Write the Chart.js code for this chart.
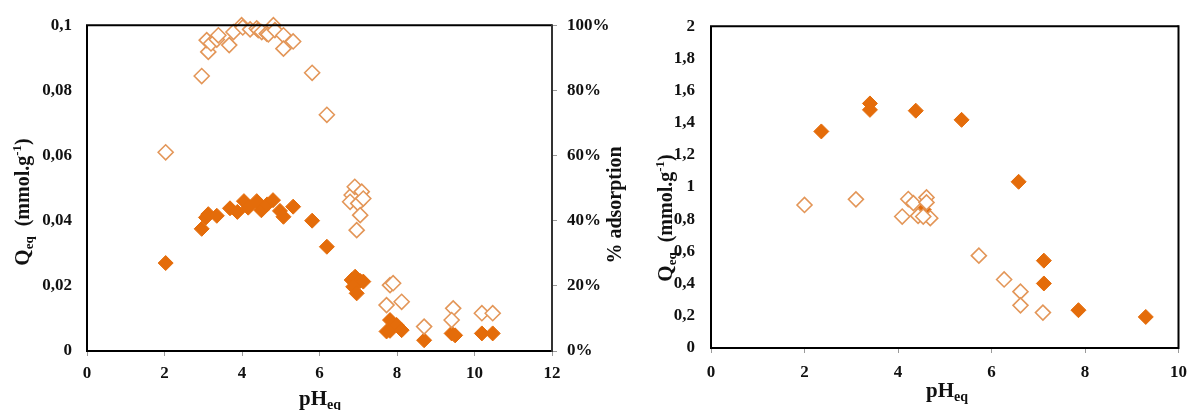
<!DOCTYPE html>
<html>
<head>
<meta charset="utf-8">
<script src="https://cdn.jsdelivr.net/npm/chart.js@4"></script>
<style>
  html, body { margin: 0; padding: 0; background: #fff; }
  #wrap { position: relative; width: 1196px; height: 410px; }
  .box { position: absolute; top: 0; height: 410px; }
</style>
</head>
<body>
<div id="wrap">
  <div class="box" style="left:0;width:640px"><canvas id="left"></canvas></div>
  <div class="box" style="left:640px;width:556px"><canvas id="right"></canvas></div>
</div>
<script>
// Left chart: Qeq (filled) and % adsorption (hollow) vs pH
const phFilledLeft = [2.03, 2.96, 3.07, 3.13, 3.35, 3.69, 3.88, 4.05, 4.16, 4.38, 4.5, 4.65, 4.8, 4.98, 5.07, 5.32, 5.81, 6.19,
  6.83, 6.92, 7.05, 7.13, 6.87, 6.96, 7.73, 7.82, 7.82, 7.99, 8.12, 8.7, 9.41, 9.5, 10.19, 10.47];
const qFilledLeft = [0.027, 0.0375, 0.041, 0.042, 0.0415, 0.0438, 0.0427, 0.046, 0.044, 0.046, 0.0432, 0.045, 0.0463, 0.043, 0.0412, 0.0443, 0.040, 0.032,
  0.0218, 0.0228, 0.0215, 0.0213, 0.0197, 0.0177, 0.006, 0.0095, 0.0062, 0.008, 0.0064, 0.0033, 0.0054, 0.0048, 0.0054, 0.0054];
const phHollowLeft = [2.03, 2.96, 3.13, 3.09, 3.2, 3.35, 3.39, 3.67, 3.78, 3.99, 4.02, 4.21, 4.38, 4.42, 4.51, 4.64, 4.68, 4.81, 4.85,
  5.07, 5.07, 5.32, 5.81, 6.19, 6.83, 6.79, 6.91, 7.0, 7.09, 7.13, 7.05, 6.96, 7.82, 7.9, 7.73, 8.12, 8.7, 9.45, 9.41, 10.19, 10.47];
const pctHollowLeft = [61, 84.4, 91.8, 95.4, 94.4, 95.6, 96.9, 93.9, 97.9, 100, 99.3, 98.7, 99, 98.5, 97.9, 97.4, 97.2, 100, 98.5,
  96.9, 92.8, 95, 85.4, 72.5, 47.9, 45.8, 50.4, 45.3, 48.9, 46.8, 41.7, 37.1, 20.2, 20.8, 14.1, 15.1, 7.5, 13.1, 9.5, 11.6, 11.6];

// Right chart: Qeq vs pH, two series
const phFilledRight = [2.36, 3.4, 3.4, 4.38, 5.36, 6.58, 7.12, 7.12, 7.86, 9.3, 4.55];
const qFilledRight = [1.346, 1.52, 1.48, 1.475, 1.418, 1.033, 0.543, 0.401, 0.235, 0.193, 0.86];
const phHollowRight = [2.0, 3.1, 4.09, 4.22, 4.33, 4.43, 4.61, 4.61, 4.69, 4.54, 5.73, 6.27, 6.62, 6.62, 7.1];
const qHollowRight = [0.889, 0.924, 0.817, 0.926, 0.9, 0.821, 0.936, 0.905, 0.807, 0.817, 0.574, 0.426, 0.35, 0.265, 0.22];

// Tick labels
const xTicksLeft = [0, 2, 4, 6, 8, 10, 12];
const yTicksLeft = ['0', '0,02', '0,04', '0,06', '0,08', '0,1'];
const y1TicksLeft = ['0%', '20%', '40%', '60%', '80%', '100%'];
const xTicksRight = [0, 2, 4, 6, 8, 10];
const yTicksRight = ['0', '0,2', '0,4', '0,6', '0,8', '1', '1,2', '1,4', '1,6', '1,8', '2'];

const FONT = '"Liberation Serif", "Times New Roman", serif';
const ORANGE = '#E46C0A';
const HOLLOW = '#E39658';

const toPoints = (xs, ys) => xs.map((x, i) => ({ x: x, y: ys[i] }));

// Draw text made of parts (for sub/superscripts), centred on cx, optionally rotated
function drawRich(ctx, parts, cx, cy, rotate) {
  ctx.save();
  ctx.fillStyle = '#111';
  ctx.textBaseline = 'alphabetic';
  ctx.textAlign = 'left';
  let total = 0;
  parts.forEach(p => {
    ctx.font = 'bold ' + p.f + 'px ' + FONT;
    p.w = ctx.measureText(p.t).width;
    total += p.w;
  });
  ctx.translate(cx, cy);
  if (rotate) ctx.rotate(-Math.PI / 2);
  let x = -total / 2;
  parts.forEach(p => {
    ctx.font = 'bold ' + p.f + 'px ' + FONT;
    ctx.fillText(p.t, x, 7 + (p.dy || 0));
    x += p.w;
  });
  ctx.restore();
}

// Frame round the plot area plus axis titles
const framePlugin = {
  id: 'frame',
  afterDraw(chart, args, opts) {
    const ctx = chart.ctx;
    const a = chart.chartArea;
    ctx.save();
    ctx.lineWidth = 2;
    ctx.strokeStyle = '#000';
    ctx.beginPath();
    ctx.moveTo(a.right, a.top);
    ctx.lineTo(a.left, a.top);
    ctx.lineTo(a.left, a.bottom);
    ctx.lineTo(a.right, a.bottom);
    ctx.stroke();
    ctx.strokeStyle = opts.rightColor || '#000';
    ctx.beginPath();
    ctx.moveTo(a.right, a.top - 1);
    ctx.lineTo(a.right, a.bottom + 1);
    ctx.stroke();
    ctx.restore();
    (opts.titles || []).forEach(t => drawRich(ctx, t.parts, t.x, t.y, t.rotate));
  }
};

const pHTitle = [{ t: 'pH', f: 21 }, { t: 'eq', f: 14, dy: 4 }];
const qTitle = [{ t: 'Q', f: 21 }, { t: 'eq', f: 13, dy: 4 }, { t: '  (mmol.g', f: 20 }, { t: '-1', f: 13, dy: -8 }, { t: ')', f: 20 }];

function tickFont() {
  return { family: FONT, size: 17, weight: 'bold' };
}

function makeChart(id, datasets, scales, frameOpts, padRight) {
  return new Chart(document.getElementById(id), {
    type: 'scatter',
    data: { datasets: datasets },
    options: {
      responsive: true,
      maintainAspectRatio: false,
      animation: false,
      clip: false,
      layout: { padding: { top: 25, right: padRight, left: 0, bottom: 0 } },
      scales: scales,
      plugins: {
        legend: { display: false },
        tooltip: { enabled: false },
        frame: frameOpts
      }
    },
    plugins: [framePlugin]
  });
}

function hollowSet(points) {
  return {
    data: points,
    pointStyle: 'rectRot',
    pointRadius: 7.5,
    pointBorderWidth: 1.6,
    pointBackgroundColor: '#fff',
    pointBorderColor: HOLLOW,
    showLine: false
  };
}

function filledSet(points) {
  return {
    data: points,
    pointStyle: 'rectRot',
    pointRadius: 7.5,
    pointBorderWidth: 1,
    pointBackgroundColor: ORANGE,
    pointBorderColor: ORANGE,
    showLine: false
  };
}

const xGrid = { display: true, drawOnChartArea: false, drawTicks: true, tickLength: 5, color: '#9a9a9a' };
const noGrid = { display: false, drawTicks: false };

// Left chart
makeChart('left', [
  Object.assign(hollowSet(toPoints(phHollowLeft, pctHollowLeft)), { yAxisID: 'y1' }),
  Object.assign(filledSet(toPoints(phFilledLeft, qFilledLeft)), { yAxisID: 'y' })
], {
  x: {
    type: 'linear', position: 'bottom', min: 0, max: 12,
    afterBuildTicks: s => { s.ticks = xTicksLeft.map(v => ({ value: v })); },
    ticks: { font: tickFont(), color: '#111', padding: 7, callback: v => String(v) },
    grid: xGrid, border: { display: false },
    afterFit: s => { s.height = 59; }
  },
  y: {
    type: 'linear', position: 'left', min: 0, max: 0.1,
    afterBuildTicks: s => { s.ticks = yTicksLeft.map((t, i) => ({ value: i * 0.02 })); },
    ticks: { font: tickFont(), color: '#111', padding: 15, callback: (v, i) => yTicksLeft[i] },
    grid: noGrid, border: { display: false },
    afterFit: s => { s.width = 87; }
  },
  y1: {
    type: 'linear', position: 'right', min: 0, max: 100,
    afterBuildTicks: s => { s.ticks = y1TicksLeft.map((t, i) => ({ value: i * 20 })); },
    ticks: { font: tickFont(), color: '#111', padding: 10, callback: (v, i) => y1TicksLeft[i] },
    grid: xGrid, border: { display: false },
    afterFit: s => { s.width = 88; }
  }
}, {
  rightColor: '#333',
  titles: [
    { parts: pHTitle, x: 320, y: 398 },
    { parts: qTitle, x: 22, y: 202, rotate: true },
    { parts: [{ t: '% adsorption', f: 20 }], x: 614, y: 205, rotate: true }
  ]
}, 0);

// Right chart
makeChart('right', [
  hollowSet(toPoints(phHollowRight, qHollowRight)),
  filledSet(toPoints(phFilledRight, qFilledRight))
], {
  x: {
    type: 'linear', position: 'bottom', min: 0, max: 10,
    afterBuildTicks: s => { s.ticks = xTicksRight.map(v => ({ value: v })); },
    ticks: { font: tickFont(), color: '#111', padding: 9, callback: v => String(v) },
    grid: xGrid, border: { display: false },
    afterFit: s => { s.height = 62; }
  },
  y: {
    type: 'linear', position: 'left', min: 0, max: 2,
    afterBuildTicks: s => { s.ticks = yTicksRight.map((t, i) => ({ value: i * 0.2 })); },
    ticks: { font: tickFont(), color: '#111', padding: 16, callback: (v, i) => yTicksRight[i] },
    grid: noGrid, border: { display: false },
    afterFit: s => { s.width = 71; }
  }
}, {
  titles: [
    { parts: pHTitle, x: 307, y: 390 },
    { parts: qTitle, x: 25, y: 218, rotate: true }
  ]
}, 12);
</script>
</body>
</html>
